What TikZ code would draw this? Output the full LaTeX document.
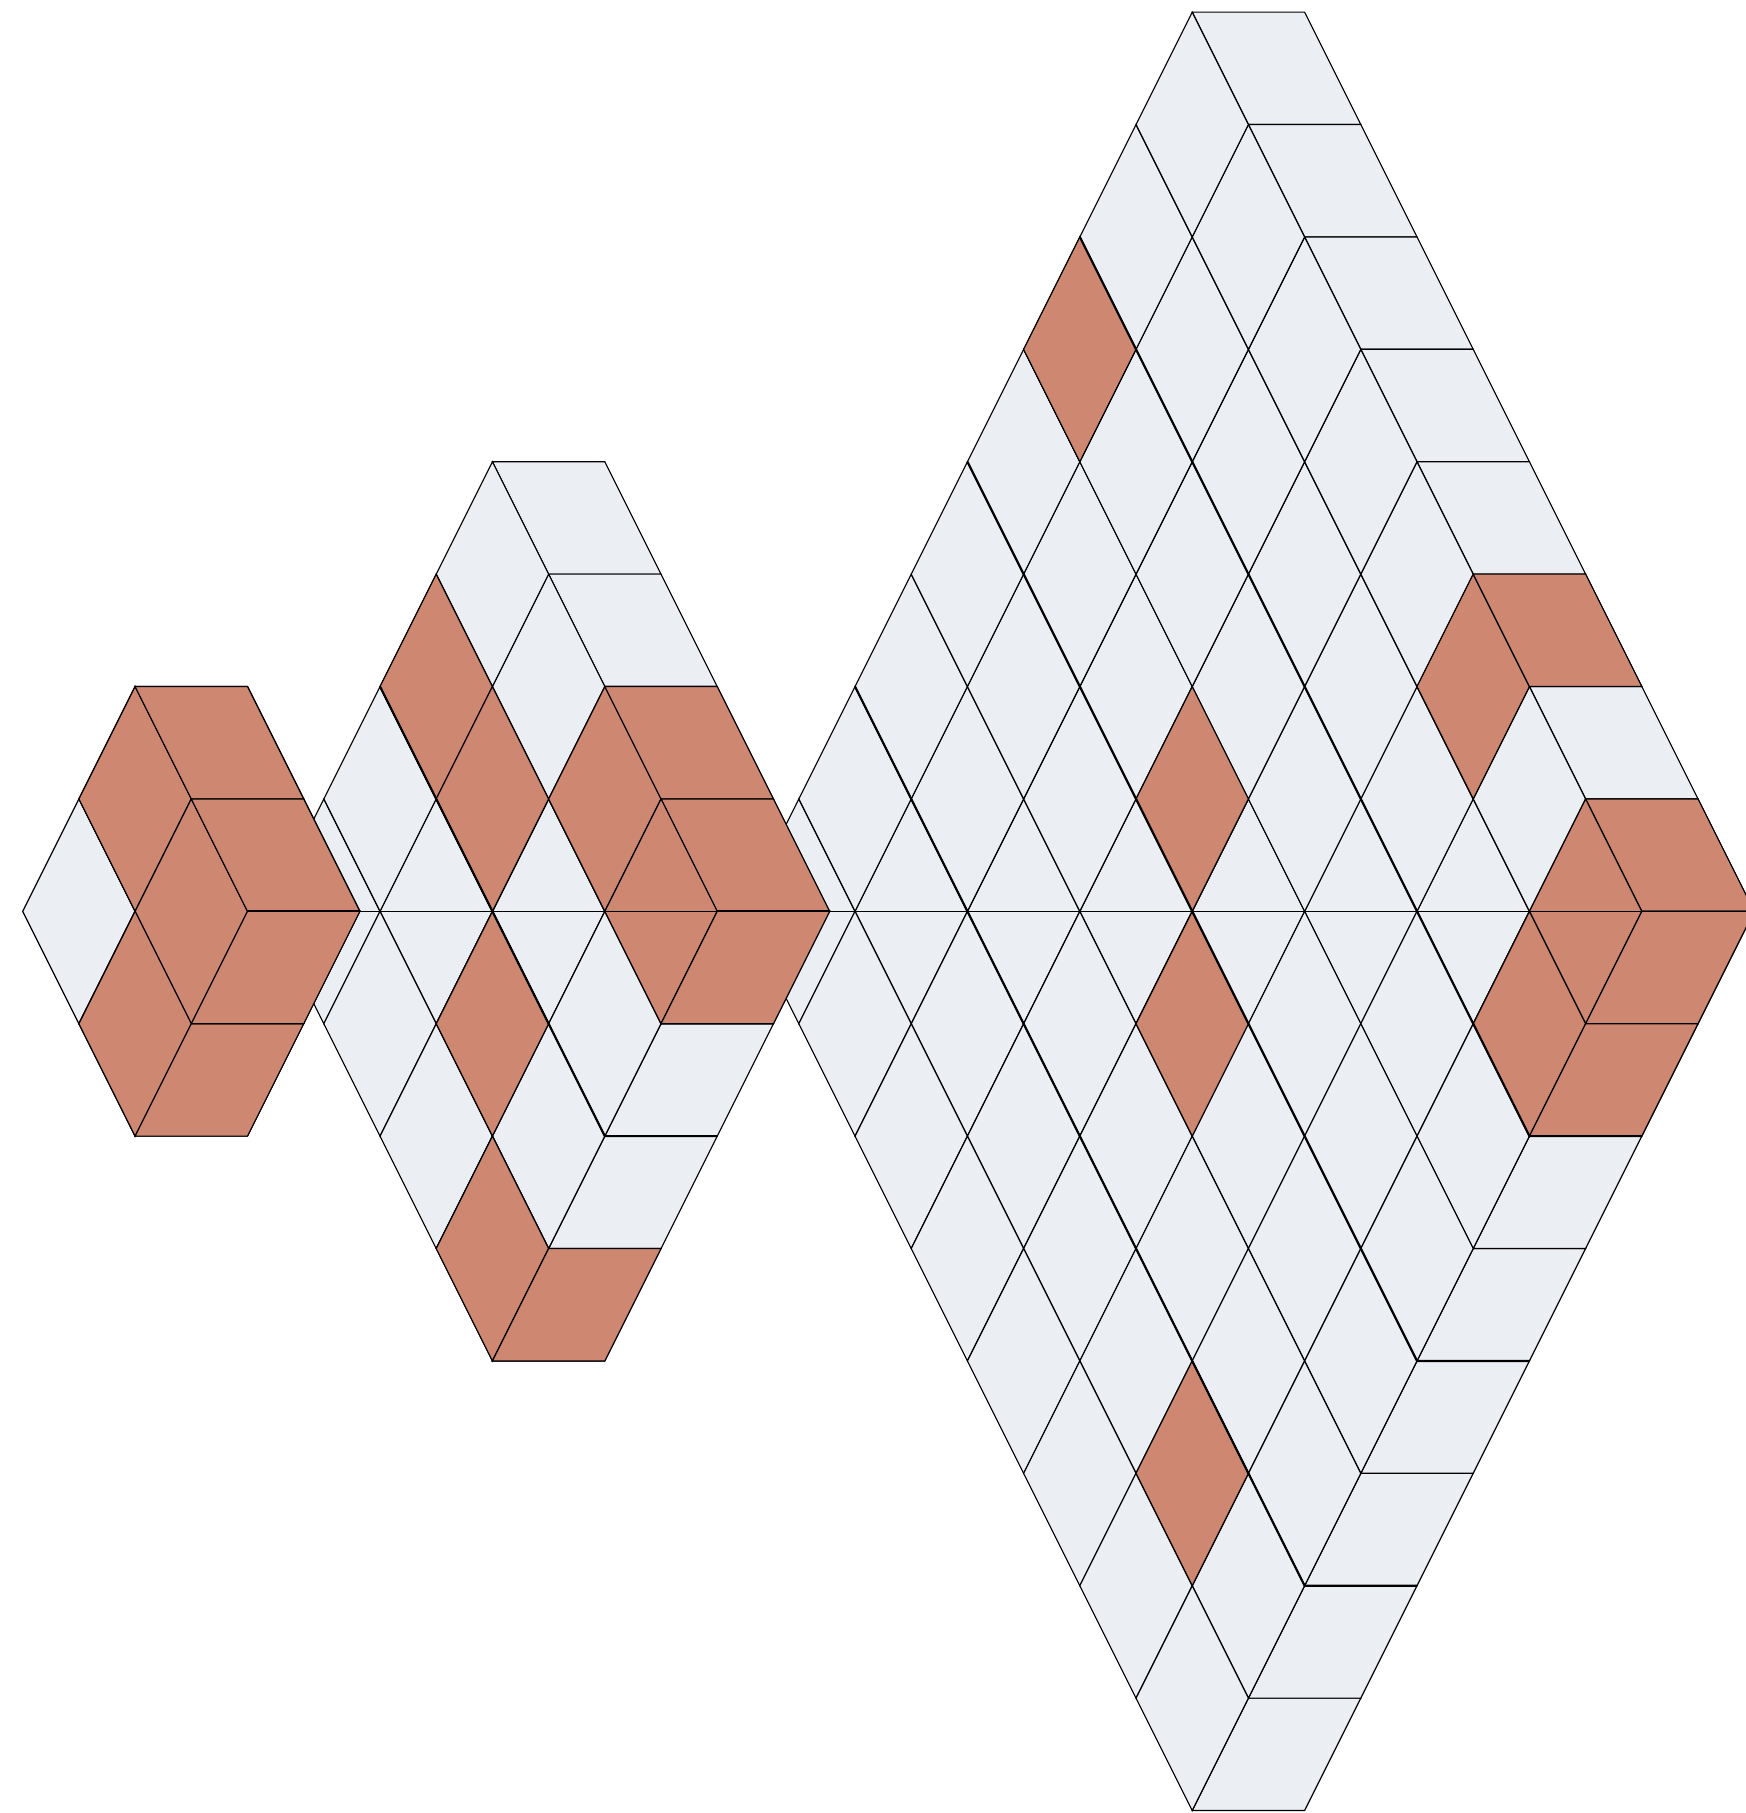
\documentclass[tikz,border=0pt]{standalone}
\usepackage{tikz}
\usepackage{xcolor}

\definecolor{pale}{RGB}{235,238,243}
\definecolor{clay}{RGB}{206,136,113}

\tikzset{
  tile/.style={draw=black, line width=0.3pt},
  trail/.style={draw=black, line width=0.55pt},
}

% lozenges, given by their lowest left corner: vertical, leaning left, leaning right
\newcommand{\vtile}[3]{\draw[tile, fill=#3] (#1,#2) -- ++(1,1) -- ++(-1,1) -- ++(-1,-1) -- cycle;}
\newcommand{\ltile}[3]{\draw[tile, fill=#3] (#1,#2) -- ++(2,0) -- ++(-1,1) -- ++(-2,0) -- cycle;}
\newcommand{\rtile}[3]{\draw[tile, fill=#3] (#1,#2) -- ++(2,0) -- ++(1,1) -- ++(-2,0) -- cycle;}

% pale hexagon with side #1, left corner at (-1,0)
\newcommand{\hexfill}[1]{%
  \foreach \k in {1,...,#1}{
    \pgfmathtruncatemacro{\xa}{#1+\k-1}
    \pgfmathtruncatemacro{\ya}{#1-\k}
    \pgfmathtruncatemacro{\xb}{#1+\k-2}
    \pgfmathtruncatemacro{\yb}{\k-#1-1}
    \pgfmathtruncatemacro{\xc}{2*\k-2}
    \ltile{\xa}{\ya}{pale}
    \rtile{\xb}{\yb}{pale}
    \vtile{\xc}{-1}{pale}
  }
  \pgfmathtruncatemacro{\jmax}{#1-2}
  \foreach \j in {0,...,\jmax}{
    \pgfmathtruncatemacro{\mmax}{#1-2-\j}
    \pgfmathtruncatemacro{\yl}{-2-\j}
    \foreach \m in {0,...,\mmax}{
      \pgfmathtruncatemacro{\xv}{\j+1+2*\m}
      \vtile{\xv}{\j}{pale}
      \vtile{\xv}{\yl}{pale}
    }
  }
}

\begin{document}
\begin{tikzpicture}
\useasboundingbox (0,-8.022) rectangle (15.534,8.108);
\clip (0,-8.022) rectangle (15.534,8.108);

% big hexagon
\begin{scope}[xshift=7.107cm, x=0.5cm]
  \hexfill{8}
  \vtile{5}{4}{clay}
  \vtile{7}{0}{clay}
  \vtile{7}{-2}{clay}
  \vtile{7}{-6}{clay}
  \vtile{12}{1}{clay}
  \ltile{13}{2}{clay}
  \ltile{15}{0}{clay}
  \vtile{14}{-1}{clay}
  \rtile{14}{-1}{clay}
  \vtile{13}{-2}{clay}
  \rtile{13}{-2}{clay}
  \draw[tile] (-1,0) -- (17,0);
  \draw[trail] (1,2) -- (9,-6) -- (11,-6);
  \draw[trail] (3,4) -- (11,-4) -- (13,-4);
  \draw[trail] (5,6) -- (13,-2) -- (15,-2);
\end{scope}

% middle hexagon
\begin{scope}[xshift=2.881cm, x=0.5cm]
  \hexfill{4}
  \vtile{2}{1}{clay}
  \vtile{3}{0}{clay}
  \vtile{5}{0}{clay}
  \ltile{6}{1}{clay}
  \ltile{7}{0}{clay}
  \vtile{6}{-1}{clay}
  \rtile{6}{-1}{clay}
  \vtile{3}{-2}{clay}
  \vtile{3}{-4}{clay}
  \rtile{3}{-4}{clay}
  \draw[tile] (-1,0) -- (9,0);
  \draw[trail] (1,2) -- (5,-2) -- (7,-2);
  \draw[trail] (7,0) -- (9,0);
\end{scope}

% small hexagon
\begin{scope}[xshift=0.702cm, x=0.5cm]
  \hexfill{2}
  \vtile{1}{0}{clay}
  \vtile{2}{-1}{clay}
  \vtile{1}{-2}{clay}
  \ltile{2}{1}{clay}
  \ltile{3}{0}{clay}
  \rtile{1}{-2}{clay}
  \rtile{2}{-1}{clay}
  \draw[trail] (3,0) -- (5,0);
\end{scope}
\end{tikzpicture}
\end{document}
